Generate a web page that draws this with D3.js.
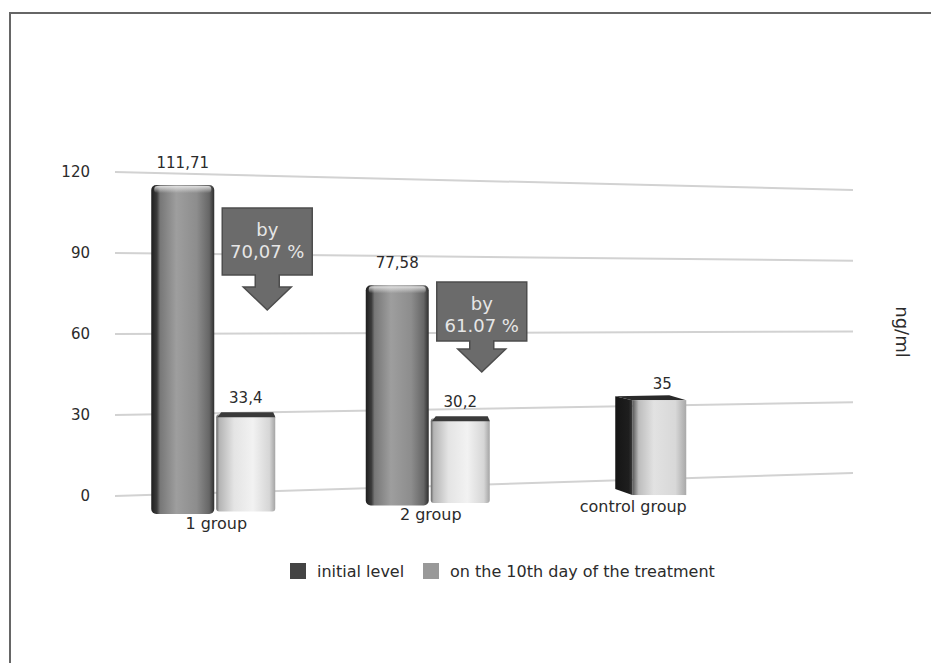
<!DOCTYPE html>
<html lang="en">
<head>
<meta charset="utf-8">
<script src="https://cdn.jsdelivr.net/npm/d3@7"></script>
<style>
  body { margin: 0; background: #fff; }
  text { font-family: "DejaVu Sans", sans-serif; fill: #2b2b2b; }
</style>
</head>
<body>
<div id="chart"></div>
<script>
  // data
  const categories = ['1 group', '2 group', 'control group']
  const initialLevel = [111.71, 77.58, null]
  const day10Level = [33.4, 30.2, null]
  const controlLevel = [null, null, 35]
  const yTicks = [0, 30, 60, 90, 120]
  const seriesNames = ['initial level', 'on the 10th day of the treatment']
  const decreaseLabels = [['by', '70,07 %'], ['by', '61.07 %']]

  let w = 931
  let h = 663

  const fmt = d3.formatLocale({decimal: ',', thousands: ' ', grouping: [3], currency: ['', '']}).format('.2~f')

  let svg = d3.select('#chart').append('svg')
      .attr('width', w)
      .attr('height', h)

  // frame (only top and left edges show)
  svg.append('path')
      .attr('d', 'M10,663 V13 H931')
      .attr('fill', 'none')
      .attr('stroke', '#666')
      .attr('stroke-width', 2)

  // x positions of the groups
  let xScale = d3.scaleBand()
      .domain(categories)
      .range([107, 750.5])

  // back wall: value scales at the left and the right end of the gridlines
  let wallX = [115, 853]
  let yBackL = d3.scaleLinear().domain([0, 120]).range([496, 172])
  let yBackR = d3.scaleLinear().domain([0, 120]).range([473, 190])

  // front plane of the bars (perspective: shrinks to the right)
  let tX = d3.scaleLinear().domain([183, 660]).range([0, 1])
  let yFrontL = d3.scaleLinear().domain([0, 120]).range([514, 160.6])
  let yFrontR = d3.scaleLinear().domain([0, 120]).range([495, 169.8])
  function yFront(x, v) {
      let t = tX(x)
      return yFrontL(v) * (1 - t) + yFrontR(v) * t
  }

  let defs = svg.append('defs')
  function hGrad(id, stops) {
      let g = defs.append('linearGradient').attr('id', id)
          .attr('x1', '0%').attr('x2', '100%').attr('y1', '0%').attr('y2', '0%')
      stops.forEach(s => g.append('stop').attr('offset', s[0]).attr('stop-color', s[1]))
  }
  hGrad('gInit', [['0%', '#1e1e1e'], ['9%', '#3c3c3c'], ['14%', '#777'], ['40%', '#9e9e9e'], ['72%', '#8d8d8d'], ['92%', '#666'], ['100%', '#2e2e2e']])
  hGrad('gDay10', [['0%', '#666'], ['5%', '#b4b4b4'], ['30%', '#e4e4e4'], ['62%', '#f2f2f2'], ['90%', '#d6d6d6'], ['100%', '#a4a4a4']])
  hGrad('gCtrl', [['0%', '#555'], ['12%', '#bdbdbd'], ['40%', '#e2e2e2'], ['80%', '#d8d8d8'], ['100%', '#a8a8a8']])
  hGrad('gSide', [['0%', '#151515'], ['80%', '#1e1e1e'], ['100%', '#3a3a3a']])
  let capGrad = defs.append('linearGradient').attr('id', 'gCap')
      .attr('x1', '0%').attr('x2', '0%').attr('y1', '0%').attr('y2', '100%')
  capGrad.append('stop').attr('offset', '0%').attr('stop-color', '#e8e8e8').attr('stop-opacity', 0.9)
  capGrad.append('stop').attr('offset', '100%').attr('stop-color', '#e8e8e8').attr('stop-opacity', 0)

  // gridlines on the back wall
  svg.append('g').selectAll('line')
      .data(yTicks)
      .enter().append('line')
      .attr('x1', wallX[0])
      .attr('x2', wallX[1])
      .attr('y1', d => yBackL(d))
      .attr('y2', d => yBackR(d))
      .attr('stroke', '#d2d2d2')
      .attr('stroke-width', 2)

  // y axis labels
  let yAxis = d3.axisLeft(yBackL).tickValues(yTicks).tickSize(0).tickPadding(0)
  let yg = svg.append('g')
      .attr('transform', 'translate(90,0)')
      .call(yAxis)
  yg.select('.domain').remove()
  yg.selectAll('text')
      .attr('font-family', '"DejaVu Sans", sans-serif')
      .attr('font-size', 15)
      .attr('fill', '#2b2b2b')

  // initial level bars
  let initData = categories.map((c, i) => ({c: c, v: initialLevel[i]})).filter(d => d.v != null)
  let gInit = svg.append('g')
  initData.forEach(d => {
      let x0 = xScale(d.c) + xScale.bandwidth() / 2 - 63
      let x1 = x0 + 63
      let xm = (x0 + x1) / 2
      let y0 = yFront(xm, 0)
      let y1 = yFront(xm, d.v)
      gInit.append('rect')
          .attr('x', x0).attr('y', y1)
          .attr('width', x1 - x0).attr('height', y0 - y1)
          .attr('rx', 5)
          .attr('fill', 'url(#gInit)')
      gInit.append('rect')
          .attr('x', x0 + 3).attr('y', y1 + 1)
          .attr('width', x1 - x0 - 6).attr('height', 7)
          .attr('rx', 3)
          .attr('fill', 'url(#gCap)')
      gInit.append('text')
          .attr('x', xm).attr('y', y1 - 17)
          .attr('text-anchor', 'middle')
          .attr('font-size', 15)
          .text(fmt(d.v))
  })

  // 10th day bars
  let d10Data = categories.map((c, i) => ({c: c, v: day10Level[i]})).filter(d => d.v != null)
  let gD10 = svg.append('g')
  d10Data.forEach(d => {
      let x0 = xScale(d.c) + xScale.bandwidth() / 2 + 2
      let x1 = x0 + 59
      let xm = (x0 + x1) / 2
      let y0 = yFront(xm, 0)
      let y1 = yFront(xm, d.v)
      gD10.append('rect')
          .attr('x', x0).attr('y', y1)
          .attr('width', x1 - x0).attr('height', y0 - y1)
          .attr('rx', 3)
          .attr('fill', 'url(#gDay10)')
      gD10.append('path')
          .attr('d', 'M' + (x0 + 1) + ',' + (y1 + 3) + ' L' + (x0 + 5) + ',' + (y1 - 2) + ' L' + (x1 - 2) + ',' + (y1 - 2) + ' L' + (x1) + ',' + (y1 + 3) + 'Z')
          .attr('fill', '#3a3a3a')
      gD10.append('text')
          .attr('x', xm).attr('y', y1 - 11)
          .attr('text-anchor', 'middle')
          .attr('font-size', 15)
          .text(fmt(d.v))
  })

  // control group bar
  let ctrlData = categories.map((c, i) => ({c: c, v: controlLevel[i]})).filter(d => d.v != null)
  let gCtrl = svg.append('g')
  ctrlData.forEach(d => {
      let c = xScale(d.c) + xScale.bandwidth() / 2
      let x0 = c - 11
      let x1 = c + 43
      let xs = x0 - 17
      let xm = (x0 + x1) / 2
      let y0 = yFront(xm, 0)
      let y1 = yFront(xm, d.v)
      // side face
      gCtrl.append('path')
          .attr('d', 'M' + xs + ',' + (y1 - 4) + ' L' + x0 + ',' + y1 + ' L' + x0 + ',' + y0 + ' L' + xs + ',' + (y0 - 6) + 'Z')
          .attr('fill', 'url(#gSide)')
      // top face
      gCtrl.append('path')
          .attr('d', 'M' + xs + ',' + (y1 - 4) + ' L' + (x1 - 17) + ',' + (y1 - 5) + ' L' + x1 + ',' + y1 + ' L' + x0 + ',' + y1 + 'Z')
          .attr('fill', '#2a2a2a')
      gCtrl.append('rect')
          .attr('x', x0).attr('y', y1)
          .attr('width', x1 - x0).attr('height', y0 - y1)
          .attr('fill', 'url(#gCtrl)')
      gCtrl.append('text')
          .attr('x', xm + 3).attr('y', y1 - 11)
          .attr('text-anchor', 'middle')
          .attr('font-size', 15)
          .text(fmt(d.v))
  })

  // category labels under the bars
  svg.append('g').selectAll('text')
      .data(categories)
      .enter().append('text')
      .attr('x', (d, i) => xScale(d) + xScale.bandwidth() / 2 + (i == 2 ? -10 : 2))
      .attr('y', d => yFront(xScale(d) + xScale.bandwidth() / 2, 0) + 16)
      .attr('text-anchor', 'middle')
      .attr('font-size', 16)
      .text(d => d)

  // decrease callouts (arrow boxes)
  let calloutLayout = [{top: 208, bottom: 275, neck: 287, tip: 310}, {top: 282, bottom: 341, neck: 349, tip: 372}]
  decreaseLabels.forEach((lines, i) => {
      let cx = xScale(categories[i]) + xScale.bandwidth() / 2 + 53
      let L = calloutLayout[i]
      let p = d3.path()
      p.moveTo(cx - 45, L.top)
      p.lineTo(cx + 45, L.top)
      p.lineTo(cx + 45, L.bottom)
      p.lineTo(cx + 12, L.bottom)
      p.lineTo(cx + 12, L.neck)
      p.lineTo(cx + 24, L.neck)
      p.lineTo(cx, L.tip)
      p.lineTo(cx - 24, L.neck)
      p.lineTo(cx - 12, L.neck)
      p.lineTo(cx - 12, L.bottom)
      p.lineTo(cx - 45, L.bottom)
      p.closePath()
      svg.append('path')
          .attr('d', p.toString())
          .attr('fill', '#6b6b6b')
          .attr('stroke', '#4d4d4d')
          .attr('stroke-width', 1.5)
      lines.forEach((t, j) => {
          svg.append('text')
              .attr('x', cx)
              .attr('y', L.top + 28 + j * 22)
              .attr('text-anchor', 'middle')
              .attr('font-size', 18)
              .style('fill', '#e6e6e6')
              .text(t)
      })
  })

  // unit label
  svg.append('text')
      .attr('transform', 'translate(896,332) rotate(90)')
      .attr('text-anchor', 'middle')
      .attr('font-size', 18)
      .text('ng/ml')

  // legend
  let legendColors = ['#444', '#999']
  let legendX = [290, 423]
  let lg = svg.append('g')
  seriesNames.forEach((s, i) => {
      lg.append('rect')
          .attr('x', legendX[i]).attr('y', 563)
          .attr('width', 16).attr('height', 16)
          .attr('fill', legendColors[i])
      lg.append('text')
          .attr('x', legendX[i] + 27).attr('y', 577)
          .attr('font-size', 16)
          .text(s)
  })
</script>
</body>
</html>
